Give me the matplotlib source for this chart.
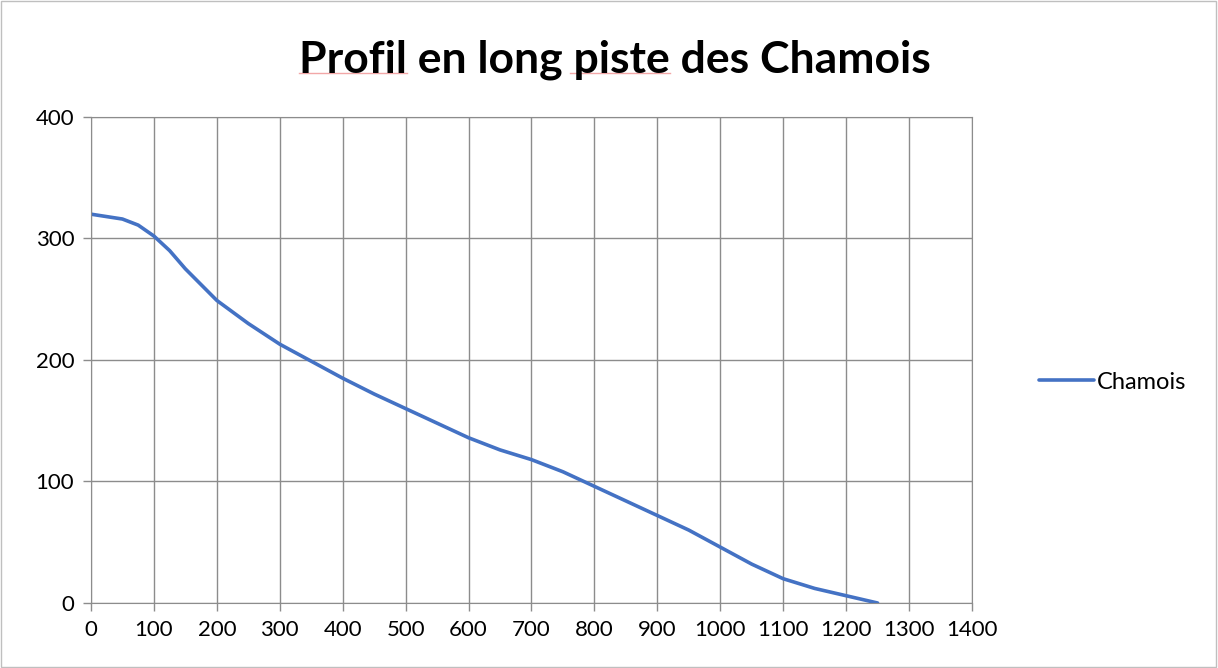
import matplotlib.pyplot as plt
from matplotlib.patches import Rectangle
from matplotlib.lines import Line2D

distance = [0, 25, 50, 75, 100, 125, 150, 175, 200, 250, 300, 350, 400, 450,
            500, 550, 600, 650, 700, 750, 800, 850, 900, 950, 1000, 1050,
            1100, 1150, 1200, 1250]
altitude = [320, 318, 316, 311, 302, 290, 275, 262, 249, 230, 213, 199, 185,
            172, 160, 148, 136, 126, 118, 108, 96, 84, 72, 60, 46, 32, 20, 12,
            6, 0]

x_ticks = list(range(0, 1401, 100))
y_ticks = [0, 100, 200, 300, 400]

plt.rcParams['font.family'] = ['Lato', 'DejaVu Sans']
grid_col = '#8c8c8c'

fig = plt.figure(figsize=(12.18, 6.68), dpi=100)
ax = fig.add_axes([0.0747, 0.0973, 0.7233, 0.7276])

ax.plot(distance, altitude, color='#4472C4', lw=2.6, label='Chamois',
        solid_capstyle='round', solid_joinstyle='round')

ax.set_xlim(0, 1400)
ax.set_ylim(0, 400)
ax.set_xticks(x_ticks)
ax.set_yticks(y_ticks)
ax.grid(True, color=grid_col, lw=1)
ax.set_axisbelow(True)
for s in ax.spines.values():
    s.set_color(grid_col)
ax.tick_params(axis='x', colors=grid_col, length=6, width=1, labelcolor='black',
               labelsize=16, pad=6)
ax.tick_params(axis='y', colors=grid_col, length=6, width=1, labelcolor='black',
               labelsize=16, pad=6)

titre = 'Profil en long piste des Chamois'
title = fig.text(0.505, 0.91, titre, fontsize=32, fontweight='bold',
                 ha='center', va='center')

leg = fig.legend(loc='center left', bbox_to_anchor=(0.836, 0.428), frameon=False,
                 fontsize=17, handlelength=2.3, handletextpad=0.15)

# soulignement du correcteur orthographique sous "Profil" et "piste"
fig.canvas.draw()
r = fig.canvas.get_renderer()
bb = title.get_window_extent(r)


def largeur(s):
    t = fig.text(0, 0, s, fontsize=32, fontweight='bold')
    w = t.get_window_extent(r).width
    t.remove()
    return w


x_piste = largeur('Profil en long ')
for x0, x1 in [(0, largeur('Profil')),
               (x_piste - 4, largeur('Profil en long piste'))]:
    yy = bb.y0 + 0.17 * bb.height
    fig.add_artist(Line2D([bb.x0 + x0, bb.x0 + x1], [yy, yy], transform=None,
                          color='#f2a7a7', lw=1))

# cadre du graphique
fig.add_artist(Rectangle((0.001, 0.001), 0.997, 0.997, transform=fig.transFigure,
                         fill=False, edgecolor='#bfbfbf', lw=1))

fig.savefig('out.png', dpi=100)
